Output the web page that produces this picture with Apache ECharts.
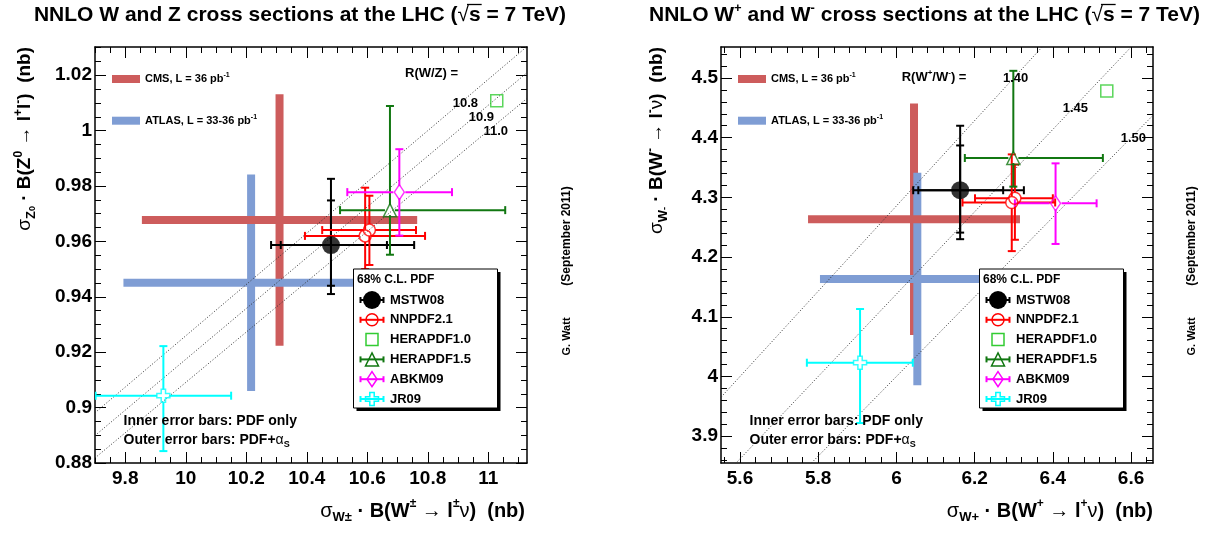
<!DOCTYPE html>
<html>
<head>
<meta charset="utf-8">
<title>NNLO W and Z cross sections at the LHC</title>
<script src="https://cdn.jsdelivr.net/npm/echarts@6/dist/echarts.min.js"></script>
<style>
html, body { margin: 0; padding: 0; background: #fff; }
#chart { width: 1212px; height: 538px; }
</style>
</head>
<body>
<div id="chart"></div>
<script>
// ---------------- data ----------------
const pdfSets = ['MSTW08', 'NNPDF2.1', 'HERAPDF1.0', 'HERAPDF1.5', 'ABKM09', 'JR09'];
const experiments = ['CMS', 'ATLAS'];
const expLumi = ['36', '33-36'];

// sigma(W±)·B  vs  sigma(Z0)·B  (nb)
const wzXRange = [9.7, 11.128];
const wzYRange = [0.88, 1.0302];
const wzXTicks = [9.8, 10, 10.2, 10.4, 10.6, 10.8, 11];
const wzYTicks = [0.88, 0.9, 0.92, 0.94, 0.96, 0.98, 1, 1.02];
// central values and PDF-only uncertainty
const wzX = [10.480, 10.607, 11.028, 10.675, 10.706, 9.926];
const wzY = [0.9587, 0.9641, 1.0108, 0.9713, 0.9778, 0.9043];
const wzXPdf = [[10.314, 10.665], [10.451, 10.761], null, [10.510, 11.056], [10.534, 10.880], [9.702, 10.150]];
const wzYPdf = [[0.9440, 0.9748], [0.9515, 0.9765], null, [0.9552, 1.0089], [0.9621, 0.9933], [0.8843, 0.9222]];
// central values and PDF+alpha_s uncertainty
const wzXAs = [10.480, 10.593, null, null, null, null];
const wzYAs = [0.9587, 0.9620, null, null, null, null];
const wzXPdfAs = [[10.282, 10.755], [10.394, 10.791], null, null, null, null];
const wzYPdfAs = [[0.9410, 0.9826], [0.9500, 0.9794], null, null, null, null];
const wzRatios = [10.8, 10.9, 11.0];
const wzMeasX = [10.310, 10.216];
const wzMeasY = [0.9677, 0.9451];
const wzMeasXErr = [0.455, 0.422];
const wzMeasYErr = [0.0454, 0.0391];

// sigma(W+)·B  vs  sigma(W-)·B  (nb)
const wpmXRange = [5.5514, 6.6562];
const wpmYRange = [3.8551, 4.5519];
const wpmXTicks = [5.6, 5.8, 6, 6.2, 6.4, 6.6];
const wpmYTicks = [3.9, 4, 4.1, 4.2, 4.3, 4.4, 4.5];
const wpmX = [6.163, 6.303, 6.538, 6.299, 6.407, 5.907];
const wpmY = [4.312, 4.2985, 4.4782, 4.366, 4.2901, 4.0231];
const wpmXPdf = [[6.056, 6.273], [6.201, 6.400], null, [6.175, 6.528], [6.303, 6.512], [5.771, 6.042]];
const wpmYPdf = [[4.241, 4.387], [4.229, 4.355], null, [4.318, 4.512], [4.222, 4.357], [3.922, 4.113]];
const wpmXAs = [6.163, 6.295, null, null, null, null];
const wpmYAs = [4.312, 4.2915, null, null, null, null];
const wpmXPdfAs = [[6.043, 6.326], [6.169, 6.406], null, null, null, null];
const wpmYPdfAs = [[4.230, 4.420], [4.210, 4.372], null, null, null, null];
const wpmRatios = [1.40, 1.45, 1.50];
const wpmMeasX = [6.045, 6.0535];
const wpmMeasY = [4.2633, 4.1633];
const wpmMeasXErr = [0.271, 0.249];
const wpmMeasYErr = [0.194, 0.178];

// ---------------- styles ----------------
const FONT = '"Liberation Sans", Arial, Helvetica, sans-serif';
const setColors = ['#000000', '#ff0000', '#33cc33', '#117711', '#ff00ff', '#00ffff'];
const expColors = ['#cd5c5c', '#7f9dd4'];
const CROSS = 'path://M-1,-3L1,-3L1,-1L3,-1L3,1L1,1L1,3L-1,3L-1,1L-3,1L-3,-1L-1,-1Z';
const setSymbols = ['circle', 'circle', 'rect', 'triangle', 'diamond', CROSS];
const setSymbolSizes = [18, 12, 12, 13, [10, 15], 13];
const setGaps = [0, 6, 6, 5, 6, 6.5];
const TICK_FONT = 19;

const frames = [
  { left: 95, top: 47, width: 432, height: 416 },
  { left: 721, top: 47, width: 432, height: 416 }
];

function ticksBetween(lo, hi, step) {
  const out = [];
  for (let k = Math.ceil(lo / step - 1e-9); k * step <= hi + 1e-9; k++) out.push(+(k * step).toFixed(6));
  return out;
}
const fmt = v => String(+v.toFixed(3));

function axis(dim, gridIndex, position, range, ticks, major, withLabels) {
  const a = {
    type: 'value', gridIndex, position, min: range[0], max: range[1],
    axisLine: { show: major, onZero: false, lineStyle: { color: '#000', width: 1.5 } },
    axisTick: { show: true, inside: true, length: major ? 11 : 6, customValues: ticks,
                lineStyle: { color: '#000', width: 1 } },
    axisLabel: { show: withLabels },
    splitLine: { show: false }
  };
  if (withLabels) {
    a.axisLabel = {
      show: true, customValues: ticks, formatter: fmt, color: '#000',
      fontFamily: FONT, fontWeight: 'bold', fontSize: TICK_FONT,
      margin: dim === 'x' ? 6 : 3
    };
  }
  return a;
}

const xAxes = [], yAxes = [];
function addPanelAxes(gMain, gMinor, xr, yr, xt, yt, xMinorStep, yMinorStep) {
  const xm = ticksBetween(xr[0], xr[1], xMinorStep);
  const ym = ticksBetween(yr[0], yr[1], yMinorStep);
  xAxes.push(axis('x', gMain, 'bottom', xr, xt, true, true));
  xAxes.push(axis('x', gMain, 'top', xr, xt, true, false));
  xAxes.push(axis('x', gMinor, 'bottom', xr, xm, false, false));
  xAxes.push(axis('x', gMinor, 'top', xr, xm, false, false));
  yAxes.push(axis('y', gMain, 'left', yr, yt, true, true));
  yAxes.push(axis('y', gMain, 'right', yr, yt, true, false));
  yAxes.push(axis('y', gMinor, 'left', yr, ym, false, false));
  yAxes.push(axis('y', gMinor, 'right', yr, ym, false, false));
}
addPanelAxes(0, 1, wzXRange, wzYRange, wzXTicks, wzYTicks, 0.05, 0.005);
addPanelAxes(2, 3, wpmXRange, wpmYRange, wpmXTicks, wpmYTicks, 0.04, 0.02);

const grids = [frames[0], frames[0], frames[1], frames[1]].map(f => Object.assign({ containLabel: false }, f));

// ---------------- series ----------------
function errorBars(ax, rows, color, gap) {
  return {
    type: 'custom', xAxisIndex: ax, yAxisIndex: ax, z: 3, silent: true, clip: true,
    data: rows, encode: { x: [0, 2, 3], y: [1, 4, 5] },
    renderItem: (params, api) => {
      const cx = api.value(0), cy = api.value(1);
      const c = api.coord([cx, cy]);
      const l = api.coord([api.value(2), cy]), r = api.coord([api.value(3), cy]);
      const b = api.coord([cx, api.value(4)]), t = api.coord([cx, api.value(5)]);
      const st = { stroke: color, lineWidth: 2 };
      const cap = 4;
      const seg = (x1, y1, x2, y2) => ({ type: 'line', shape: { x1, y1, x2, y2 }, style: st });
      return { type: 'group', children: [
        seg(l[0], c[1], c[0] - gap, c[1]), seg(c[0] + gap, c[1], r[0], c[1]),
        seg(c[0], t[1], c[0], c[1] - gap), seg(c[0], c[1] + gap, c[0], b[1]),
        seg(l[0], c[1] - cap, l[0], c[1] + cap), seg(r[0], c[1] - cap, r[0], c[1] + cap),
        seg(c[0] - cap, t[1], c[0] + cap, t[1]), seg(c[0] - cap, b[1], c[0] + cap, b[1])
      ] };
    }
  };
}

// thick measurement bar, either along x (horizontal) or along y (vertical)
function measurementBars(ax, rows, horizontal, z) {
  return {
    type: 'custom', xAxisIndex: ax, yAxisIndex: ax, z, silent: true, clip: true,
    data: rows, encode: { x: 0, y: 1 },
    renderItem: (params, api) => {
      const cx = api.value(0), cy = api.value(1), dx = api.value(2), dy = api.value(3);
      const st = { stroke: expColors[api.value(4)], lineWidth: 8, lineCap: 'butt' };
      const a = horizontal ? api.coord([cx - dx, cy]) : api.coord([cx, cy - dy]);
      const b = horizontal ? api.coord([cx + dx, cy]) : api.coord([cx, cy + dy]);
      return { type: 'line', shape: { x1: a[0], y1: a[1], x2: b[0], y2: b[1] }, style: st };
    }
  };
}

function panelSeries(ax, X, Y, XPdf, YPdf, XAs, YAs, XPdfAs, YPdfAs, ratios, xr, mX, mY, mXe, mYe) {
  const out = [];
  const meas = experiments.map((e, i) => [mX[i], mY[i], mXe[i], mYe[i], i]);
  out.push(measurementBars(ax, meas, false, 1));
  out.push(measurementBars(ax, meas, true, 1));
  // lines of constant cross-section ratio
  ratios.forEach(R => out.push({
    type: 'line', xAxisIndex: ax, yAxisIndex: ax, z: 2, silent: true, symbol: 'none', clip: true,
    data: [[xr[0], xr[0] / R], [xr[1], xr[1] / R]],
    lineStyle: { color: '#333', width: 1, type: [1, 2] }
  }));
  // theory predictions
  pdfSets.forEach((name, i) => {
    const rows = [];
    if (XPdf[i]) rows.push([X[i], Y[i], XPdf[i][0], XPdf[i][1], YPdf[i][0], YPdf[i][1]]);
    if (XPdfAs[i]) rows.push([XAs[i], YAs[i], XPdfAs[i][0], XPdfAs[i][1], YPdfAs[i][0], YPdfAs[i][1]]);
    if (rows.length) out.push(errorBars(ax, rows, setColors[i], setGaps[i]));
    const pts = [[X[i], Y[i]]];
    if (XAs[i] !== null && (XAs[i] !== X[i] || YAs[i] !== Y[i])) pts.push([XAs[i], YAs[i]]);
    out.push({
      type: 'scatter', name, xAxisIndex: ax, yAxisIndex: ax, z: 4, silent: true,
      data: pts, symbol: setSymbols[i], symbolSize: setSymbolSizes[i],
      itemStyle: i === 0 ? { color: '#000' }
        : { color: 'rgba(0,0,0,0)', borderColor: setColors[i], borderWidth: 1.5 }
    });
  });
  return out;
}

const series = [].concat(
  panelSeries(0, wzX, wzY, wzXPdf, wzYPdf, wzXAs, wzYAs, wzXPdfAs, wzYPdfAs, wzRatios, wzXRange,
              wzMeasX, wzMeasY, wzMeasXErr, wzMeasYErr),
  panelSeries(4, wpmX, wpmY, wpmXPdf, wpmYPdf, wpmXAs, wpmYAs, wpmXPdfAs, wpmYPdfAs, wpmRatios, wpmXRange,
              wpmMeasX, wpmMeasY, wpmMeasXErr, wpmMeasYErr)
);

// ---------------- text & legend graphics ----------------
const mctx = document.createElement('canvas').getContext('2d');
function textWidth(str, size, weight) {
  mctx.font = weight + ' ' + size + 'px ' + FONT;
  return mctx.measureText(str).width;
}

function richStyles(size) {
  const lh = Math.round(size * 1.3);
  const base = { fontFamily: FONT, fill: '#000' };
  return {
    b: Object.assign({}, base, { fontWeight: 'bold', fontSize: size, lineHeight: lh }),
    g: Object.assign({}, base, { fontWeight: 'normal', fontSize: size, lineHeight: lh }),
    sup: Object.assign({}, base, { fontWeight: 'bold', fontSize: Math.round(size * 0.62),
                                   verticalAlign: 'top', lineHeight: Math.round(size * 0.62) }),
    sub: Object.assign({}, base, { fontWeight: 'bold', fontSize: Math.round(size * 0.66),
                                   verticalAlign: 'bottom', lineHeight: Math.round(size * 0.66) }),
    subsup: Object.assign({}, base, { fontWeight: 'bold', fontSize: Math.round(size * 0.45),
                                      verticalAlign: 'bottom', lineHeight: Math.round(size * 0.95) })
  };
}

function richText(x, y, text, size, align, extra) {
  return Object.assign({
    type: 'text', x, y, z: 100, silent: true,
    style: { text, rich: richStyles(size), fill: '#000', fontFamily: FONT, fontWeight: 'bold',
             fontSize: size, align, verticalAlign: 'middle' }
  }, extra || {});
}

function plainText(x, y, text, size, align, weight) {
  return {
    type: 'text', x, y, z: 100, silent: true,
    style: { text, fill: '#000', fontFamily: FONT, fontWeight: weight || 'bold', fontSize: size,
             align: align || 'left', verticalAlign: 'middle' }
  };
}

// title with a radical sign whose bar spans the "s"
function titleElements(cx, y, tokens, size) {
  const els = [];
  const rs = richStyles(size);
  let total = 0;
  const widths = tokens.map(t => {
    const st = rs[t[0]];
    const w = textWidth(t[1], st.fontSize, st.fontWeight);
    total += w;
    return w;
  });
  let x = cx - total / 2;
  tokens.forEach((t, k) => {
    if (t[2] === 'bar') {
      els.push({ type: 'line', z: 100, silent: true,
                 shape: { x1: x - 2, y1: y - size * 0.5, x2: x + widths[k] + 1, y2: y - size * 0.5 },
                 style: { stroke: '#000', lineWidth: 1.3 } });
    }
    x += widths[k];
  });
  const text = tokens.map(t => '{' + t[0] + '|' + t[1] + '}').join('');
  els.push(richText(cx, y, text, size, 'center'));
  return els;
}

function markerShape(i, cx, cy) {
  const col = setColors[i];
  const st = { fill: 'none', stroke: col, lineWidth: 1.5 };
  switch (i) {
    case 0: return { type: 'circle', shape: { cx, cy, r: 9 }, style: { fill: '#000' } };
    case 1: return { type: 'circle', shape: { cx, cy, r: 6 }, style: st };
    case 2: return { type: 'rect', shape: { x: cx - 6, y: cy - 6, width: 12, height: 12 }, style: st };
    case 3: return { type: 'polygon', shape: { points: [[cx, cy - 6.5], [cx + 6.5, cy + 6.5], [cx - 6.5, cy + 6.5]] }, style: st };
    case 4: return { type: 'polygon', shape: { points: [[cx, cy - 7.5], [cx + 5, cy], [cx, cy + 7.5], [cx - 5, cy]] }, style: st };
    default: {
      const a = 2.2, b = 6.5;
      return { type: 'polygon', shape: { points: [[cx - a, cy - b], [cx + a, cy - b], [cx + a, cy - a], [cx + b, cy - a],
        [cx + b, cy + a], [cx + a, cy + a], [cx + a, cy + b], [cx - a, cy + b], [cx - a, cy + a], [cx - b, cy + a],
        [cx - b, cy - a], [cx - a, cy - a]] }, style: st };
    }
  }
}

function panelGraphics(f, ratioText, ratioLabels) {
  const fx = f.left;
  const els = [];
  // experiment key
  experiments.forEach((e, k) => {
    const y = [79, 120.7][k];
    els.push({ type: 'line', z: 100, silent: true, shape: { x1: fx + 17, y1: y, x2: fx + 45, y2: y },
               style: { stroke: expColors[k], lineWidth: 8, lineCap: 'butt' } });
    els.push(richText(fx + 50, y, '{b|' + e + ', L = ' + expLumi[k] + ' pb}{sup|-1}', 11, 'left'));
  });
  // PDF legend box
  const bx = fx + 258.5, by = 269, bw = 144, bh = 139;
  els.push({ type: 'rect', z: 100, silent: true, shape: { x: bx + 3, y: by + 3, width: bw, height: bh }, style: { fill: '#000' } });
  els.push({ type: 'rect', z: 100, silent: true, shape: { x: bx, y: by, width: bw, height: bh },
             style: { fill: '#fff', stroke: '#000', lineWidth: 1 } });
  els.push(plainText(bx + 3.5, by + 11, '68% C.L. PDF', 12, 'left'));
  pdfSets.forEach((name, i) => {
    const y = by + 31 + i * 19.8, mx = bx + 18.5;
    if (i !== 2) {
      const st = { stroke: setColors[i], lineWidth: 2 };
      els.push({ type: 'line', z: 100, silent: true, shape: { x1: bx + 7, y1: y, x2: bx + 30, y2: y }, style: st });
      els.push({ type: 'line', z: 100, silent: true, shape: { x1: bx + 7, y1: y - 3, x2: bx + 7, y2: y + 3 }, style: st });
      els.push({ type: 'line', z: 100, silent: true, shape: { x1: bx + 30, y1: y - 3, x2: bx + 30, y2: y + 3 }, style: st });
    }
    const m = markerShape(i, mx, y);
    m.z = 101; m.silent = true;
    els.push(m);
    els.push(plainText(bx + 36.5, y, name, 13, 'left'));
  });
  // error bar explanation
  els.push(plainText(fx + 28.5, 421, 'Inner error bars: PDF only', 14, 'left'));
  els.push(richText(fx + 28.5, 440, '{b|Outer error bars: PDF+}{g|α}{sub|S}', 14, 'left'));
  // ratio annotations
  els.push(richText(ratioText[0], ratioText[1], ratioText[2], 13, 'left'));
  ratioLabels.forEach(r => els.push(plainText(r[0], r[1], r[2], 13, r[3])));
  return els;
}

const graphics = [].concat(
  titleElements(300, 15, [['b', 'NNLO W and Z cross sections at the LHC ('], ['g', '√'], ['b', 's', 'bar'], ['b', ' = 7 TeV)']], 21),
  titleElements(924.5, 15, [['b', 'NNLO W'], ['sup', '+'], ['b', ' and W'], ['sup', '-'],
                            ['b', ' cross sections at the LHC ('], ['g', '√'], ['b', 's', 'bar'], ['b', ' = 7 TeV)']], 21),
  panelGraphics(frames[0], [405, 73, '{b|R(W/Z) =}'],
                [[478, 103, wzRatios[0].toFixed(1), 'right'],
                 [494, 117, wzRatios[1].toFixed(1), 'right'],
                 [508, 131, wzRatios[2].toFixed(1), 'right']]),
  panelGraphics(frames[1], [901.7, 77, '{b|R(W}{sup|+}{b|/W}{sup|-}{b|) =}'],
                [[1003, 78, wpmRatios[0].toFixed(2), 'left'],
                 [1062.7, 108, wpmRatios[1].toFixed(2), 'left'],
                 [1120.7, 138, wpmRatios[2].toFixed(2), 'left']]),
  [
    // axis titles
    richText(525, 511, '{g|σ}{sub|W±}{b| · B(W}{sup|±}{g| → }{b|l}{sup|±}{g|ν}{b|)  (nb)}', 20, 'right'),
    richText(1153, 511, '{g|σ}{sub|W+}{b| · B(W}{sup|+}{g| → }{b|l}{sup|+}{g|ν}{b|)  (nb)}', 20, 'right'),
    richText(25, 47, '{g|σ}{sub|Z}{subsup|0}{b| · B(Z}{sup|0}{g| → }{b|l}{sup|+}{b|l}{sup|-}{b|)  (nb)}', 19, 'right',
             { rotation: Math.PI / 2 }),
    richText(657, 47, '{g|σ}{sub|W}{subsup|-}{b| · B(W}{sup|-}{g| → }{b|l}{sup|-}{g|ν}{b|)  (nb)}', 19, 'right',
             { rotation: Math.PI / 2 }),
    // author / date
    Object.assign(plainText(567, 236, '(September 2011)', 12, 'center'), { rotation: Math.PI / 2 }),
    Object.assign(plainText(567, 336.5, 'G. Watt', 11, 'center'), { rotation: Math.PI / 2 }),
    Object.assign(plainText(1192, 236, '(September 2011)', 12, 'center'), { rotation: Math.PI / 2 }),
    Object.assign(plainText(1192, 336.5, 'G. Watt', 11, 'center'), { rotation: Math.PI / 2 })
  ]
);

const chart = echarts.init(document.getElementById('chart'), null, { renderer: 'canvas' });
chart.setOption({
  backgroundColor: '#fff',
  animation: false,
  grid: grids,
  xAxis: xAxes,
  yAxis: yAxes,
  series,
  graphic: { elements: graphics }
});
</script>
</body>
</html>
